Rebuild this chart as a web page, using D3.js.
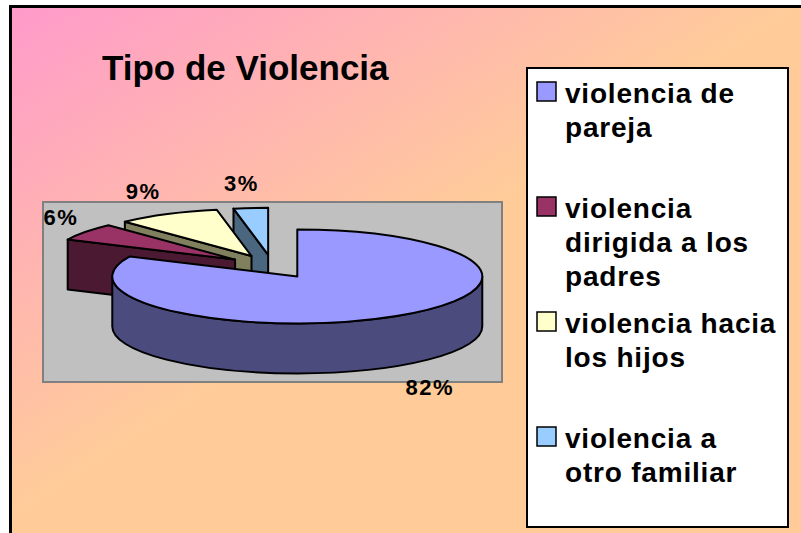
<!DOCTYPE html>
<html>
<head>
<meta charset="utf-8">
<script src="https://cdn.jsdelivr.net/npm/d3@7"></script>
<style>
  body { margin: 0; background: #fff; }
  text { font-family: "Liberation Sans", Arial, sans-serif; font-weight: bold; fill: #000; }
</style>
</head>
<body>
<script>

// data
var categories = ["violencia de pareja", "violencia dirigida a los padres", "violencia hacia los hijos", "violencia a otro familiar"];
var values = [82, 6, 9, 3];
var percentLabels = ["82%", "6%", "9%", "3%"];
var legendLines = [["violencia de", "pareja"], ["violencia", "dirigida a los", "padres"], ["violencia hacia", "los hijos"], ["violencia a", "otro familiar"]];
var topColors = ["#9999ff", "#993366", "#ffffcc", "#99ccff"];
var sideColors = ["#4b4b7e", "#4b1a32", "#80805f", "#4b667f"];

var W = 801, H = 533;

var svg = d3.select("body").append("svg")
  .attr("width", W)
  .attr("height", H);

// background gradient pink -> peach
var grad = svg.append("defs").append("linearGradient")
  .attr("id", "bg")
  .attr("gradientUnits", "userSpaceOnUse")
  .attr("x1", 0).attr("y1", 0)
  .attr("x2", 240).attr("y2", 370);
grad.append("stop").attr("offset", 0).attr("stop-color", "#ff99cc");
grad.append("stop").attr("offset", 1).attr("stop-color", "#ffcc99");

svg.append("rect")
  .attr("x", 10.5).attr("y", 6.5)
  .attr("width", W).attr("height", H)
  .attr("fill", "url(#bg)")
  .attr("stroke", "#000")
  .attr("stroke-width", 3);

svg.append("text")
  .attr("x", 102).attr("y", 80)
  .style("font-size", "35px")
  .text("Tipo de Violencia");

// plot area
svg.append("rect")
  .attr("x", 43).attr("y", 202)
  .attr("width", 459).attr("height", 180)
  .attr("fill", "#c0c0c0")
  .attr("stroke", "#808080")
  .attr("stroke-width", 2);

// 3D pie
var cx0 = 272.5, cy0 = 266.5, rx = 185, ry = 47, depth = 50, explode = 0.25;

var pie = d3.pie().sort(null).value(function(d) { return d; });
var arcs = pie(values).map(function(a, i) {
  var mid = (a.startAngle + a.endAngle) / 2;
  return {
    i: i,
    sa: a.startAngle,
    ea: a.endAngle,
    mid: mid,
    cx: cx0 + explode * rx * Math.sin(mid),
    cy: cy0 - explode * ry * Math.cos(mid)
  };
});

function pt(s, t, dz) {
  return [s.cx + rx * Math.sin(t), s.cy - ry * Math.cos(t) + (dz || 0)];
}

function topPath(s) {
  var p0 = pt(s, s.sa), p1 = pt(s, s.ea);
  var large = (s.ea - s.sa) > Math.PI ? 1 : 0;
  return "M" + s.cx + "," + s.cy + "L" + p0 + "A" + rx + "," + ry + " 0 " + large + " 1 " + p1 + "Z";
}

function wallPath(s) {
  var a0 = Math.max(s.sa, Math.PI / 2), a1 = Math.min(s.ea, 3 * Math.PI / 2);
  if (a1 <= a0) return null;
  var large = (a1 - a0) > Math.PI ? 1 : 0;
  return "M" + pt(s, a0) + "A" + rx + "," + ry + " 0 " + large + " 1 " + pt(s, a1) +
    "L" + pt(s, a1, depth) + "A" + rx + "," + ry + " 0 " + large + " 0 " + pt(s, a0, depth) + "Z";
}

function facePath(s, t) {
  return "M" + s.cx + "," + s.cy + "L" + pt(s, t) + "L" + pt(s, t, depth) +
    "L" + s.cx + "," + (s.cy + depth) + "Z";
}

// back slices first
var order = arcs.slice().sort(function(a, b) { return a.cy - b.cy; });

var pieG = svg.append("g")
  .attr("stroke", "#000")
  .attr("stroke-width", 2)
  .attr("stroke-linejoin", "round");

order.forEach(function(s) {
  var g = pieG.append("g");
  if (Math.sin(s.sa) < -1e-6) {
    g.append("path").attr("d", facePath(s, s.sa)).attr("fill", sideColors[s.i]);
  }
  if (Math.sin(s.ea) > 1e-6) {
    g.append("path").attr("d", facePath(s, s.ea)).attr("fill", sideColors[s.i]);
  }
  var w = wallPath(s);
  if (w) g.append("path").attr("d", w).attr("fill", sideColors[s.i]);
  g.append("path").attr("d", topPath(s)).attr("fill", topColors[s.i]);
});

// percent labels: beside the rim, centred when near the top
function labelAnchor(d) {
  var s = Math.sin(d.mid);
  if (Math.abs(s) < 0.2) return "middle";
  return s > 0 ? "start" : "end";
}

svg.selectAll(".pct")
  .data(arcs)
  .enter().append("text")
  .attr("class", "pct")
  .attr("text-anchor", labelAnchor)
  .attr("dominant-baseline", "central")
  .style("font-size", "22px")
  .style("letter-spacing", "1.5px")
  .attr("x", function(d) {
    var s = Math.sin(d.mid), x = pt(d, d.mid)[0];
    if (Math.abs(s) < 0.2) return x + s * 100;
    return x + (s > 0 ? 9 : -7);
  })
  .attr("y", function(d) {
    var front = -Math.cos(d.mid) > 0 ? depth : 0;
    return pt(d, d.mid, front)[1] - Math.cos(d.mid) * 25;
  })
  .text(function(d) { return percentLabels[d.i]; });

// legend
var legend = svg.append("g");
legend.append("rect")
  .attr("x", 527).attr("y", 68)
  .attr("width", 261).attr("height", 459)
  .attr("fill", "#fff")
  .attr("stroke", "#000")
  .attr("stroke-width", 2);

var item = legend.selectAll(".item")
  .data(categories)
  .enter().append("g")
  .attr("class", "item")
  .attr("transform", function(d, i) { return "translate(537," + (82 + i * 115) + ")"; });

item.append("rect")
  .attr("width", 19).attr("height", 19)
  .attr("fill", function(d, i) { return topColors[i]; })
  .attr("stroke", "#000")
  .attr("stroke-width", 1.5);

item.append("text")
  .attr("x", 28).attr("y", 21)
  .style("font-size", "28px")
  .style("letter-spacing", "0.8px")
  .selectAll("tspan")
  .data(function(d, i) { return legendLines[i]; })
  .enter().append("tspan")
  .attr("x", 28)
  .attr("dy", function(d, j) { return j === 0 ? 0 : 34; })
  .text(function(d) { return d; });

</script>
</body>
</html>
